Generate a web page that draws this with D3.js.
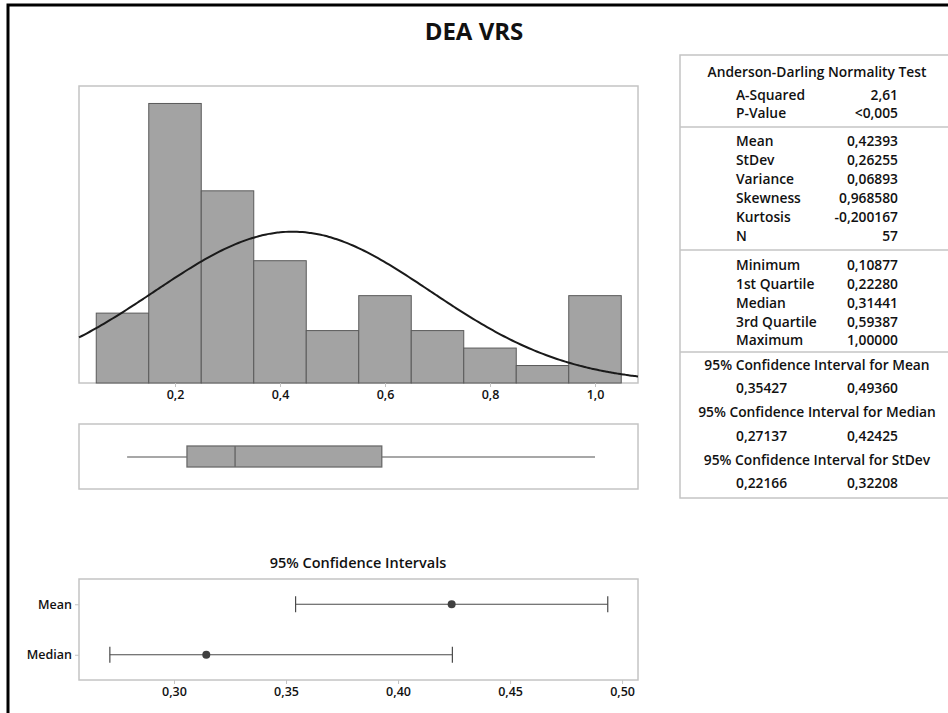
<!DOCTYPE html>
<html>
<head>
<meta charset="utf-8">
<script src="https://cdn.jsdelivr.net/npm/d3@7"></script>
<style>
  html, body { margin: 0; padding: 0; background: #fff; }
  svg text { font-family: "Open Sans", "Noto Sans", sans-serif; fill: #111; }
</style>
</head>
<body>
<svg id="chart" width="948" height="713"></svg>
<script>
// ---- data ----
const binCenters = [0.1, 0.2, 0.3, 0.4, 0.5, 0.6, 0.7, 0.8, 0.9, 1.0];
const binCounts  = [4, 16, 11, 7, 3, 5, 3, 2, 1, 5];
const binWidth = 0.1;
const histTicks = [0.2, 0.4, 0.6, 0.8, 1.0];

const sampleMean = 0.42393;
const sampleStDev = 0.26255;
const sampleN = 57;

const fiveNumber = { min: 0.10877, q1: 0.22280, median: 0.31441, q3: 0.59387, max: 1.00000 };

const ciNames  = ["Mean", "Median"];
const ciCenter = [0.42393, 0.31441];
const ciLower  = [0.35427, 0.27137];
const ciUpper  = [0.49360, 0.42425];
const ciTicks  = [0.30, 0.35, 0.40, 0.45, 0.50];

const adRows   = [["A-Squared", "2,61"], ["P-Value", "<0,005"]];
const momentRows = [["Mean", "0,42393"], ["StDev", "0,26255"], ["Variance", "0,06893"],
                    ["Skewness", "0,968580"], ["Kurtosis", "-0,200167"], ["N", "57"]];
const quantRows = [["Minimum", "0,10877"], ["1st Quartile", "0,22280"], ["Median", "0,31441"],
                   ["3rd Quartile", "0,59387"], ["Maximum", "1,00000"]];
const ciTable = [
  ["95% Confidence Interval for Mean", "0,35427", "0,49360"],
  ["95% Confidence Interval for Median", "0,27137", "0,42425"],
  ["95% Confidence Interval for StDev", "0,22166", "0,32208"]
];

// ---- helpers ----
const svg = d3.select("#chart");
const comma = (digits) => (v) => d3.format("." + digits + "f")(v).replace(".", ",");
const FRAME = "#c4c4c4";
const BAR_FILL = "#a3a3a3";
const BAR_STROKE = "#5a5a5a";
const AXIS_FONT = "12.5px";

// outer frame
svg.append("rect").attr("x", 8).attr("y", 5).attr("width", 960).attr("height", 740)
  .attr("fill", "none").attr("stroke", "#000").attr("stroke-width", 3);

// title, centred over the whole graph
svg.append("text").attr("x", 474).attr("y", 40).attr("text-anchor", "middle")
  .style("font-size", "24px").style("font-weight", 700).text("DEA VRS");

// ---- histogram ----
const hx = d3.scaleLinear().domain([0.01714, 1.0819]).range([79, 638]);
const hy = d3.scaleLinear().domain([0, 17]).range([383, 86]);

const hist = svg.append("g");
hist.append("rect").attr("x", 79).attr("y", 86).attr("width", 559).attr("height", 297)
  .attr("fill", "#fff").attr("stroke", FRAME).attr("stroke-width", 1.5);

hist.selectAll("rect.bar").data(binCenters).join("rect").attr("class", "bar")
  .attr("x", d => hx(d - binWidth / 2))
  .attr("width", d => hx(d + binWidth / 2) - hx(d - binWidth / 2))
  .attr("y", (d, i) => hy(binCounts[i]))
  .attr("height", (d, i) => hy(0) - hy(binCounts[i]))
  .attr("fill", BAR_FILL).attr("stroke", BAR_STROKE).attr("stroke-width", 1);

// fitted normal curve, scaled to counts
const curvePts = d3.range(0, 201).map(i => {
  const x = hx.domain()[0] + (hx.domain()[1] - hx.domain()[0]) * i / 200;
  const z = (x - sampleMean) / sampleStDev;
  const dens = Math.exp(-0.5 * z * z) / (sampleStDev * Math.sqrt(2 * Math.PI));
  return [x, dens * sampleN * binWidth];
});
hist.append("path").datum(curvePts)
  .attr("d", d3.line().x(d => hx(d[0])).y(d => hy(d[1])).curve(d3.curveBasis))
  .attr("fill", "none").attr("stroke", "#1a1a1a").attr("stroke-width", 2);

const hAxis = hist.append("g").attr("transform", "translate(0,383)")
  .call(d3.axisBottom(hx).tickValues(histTicks).tickFormat(comma(1)).tickSize(4).tickPadding(3));
hAxis.select(".domain").remove();
hAxis.selectAll(".tick line").attr("stroke", FRAME);
hAxis.selectAll("text").style("font-size", AXIS_FONT).style("font-weight", 600).attr("fill", "#111");

// ---- boxplot ----
const box = svg.append("g");
box.append("rect").attr("x", 79).attr("y", 424).attr("width", 559).attr("height", 65)
  .attr("fill", "#fff").attr("stroke", FRAME).attr("stroke-width", 1.5);
box.append("line").attr("x1", hx(fiveNumber.min)).attr("x2", hx(fiveNumber.q1))
  .attr("y1", 457).attr("y2", 457).attr("stroke", "#8a8a8a").attr("stroke-width", 1.5);
box.append("line").attr("x1", hx(fiveNumber.q3)).attr("x2", hx(fiveNumber.max))
  .attr("y1", 457).attr("y2", 457).attr("stroke", "#8a8a8a").attr("stroke-width", 1.5);
box.append("rect").attr("x", hx(fiveNumber.q1)).attr("width", hx(fiveNumber.q3) - hx(fiveNumber.q1))
  .attr("y", 446).attr("height", 21)
  .attr("fill", BAR_FILL).attr("stroke", "#6a6a6a").attr("stroke-width", 1.3);
box.append("line").attr("x1", hx(fiveNumber.median)).attr("x2", hx(fiveNumber.median))
  .attr("y1", 446).attr("y2", 467).attr("stroke", "#6a6a6a").attr("stroke-width", 1.5);

// ---- confidence intervals ----
const cx = d3.scaleLinear().domain([0.2576, 0.5071]).range([79, 638]);
const cy = d3.scalePoint().domain(ciNames).range([579, 680]).padding(0.5);

const ci = svg.append("g");
ci.append("text").attr("x", 358).attr("y", 568).attr("text-anchor", "middle")
  .style("font-size", "14.5px").style("font-weight", 600).text("95% Confidence Intervals");
ci.append("rect").attr("x", 79).attr("y", 579).attr("width", 559).attr("height", 101)
  .attr("fill", "#fff").attr("stroke", FRAME).attr("stroke-width", 1.5);

const cxAxis = ci.append("g").attr("transform", "translate(0,680)")
  .call(d3.axisBottom(cx).tickValues(ciTicks).tickFormat(comma(2)).tickSize(4).tickPadding(3));
cxAxis.select(".domain").remove();
cxAxis.selectAll(".tick line").attr("stroke", FRAME);
cxAxis.selectAll("text").style("font-size", AXIS_FONT).style("font-weight", 600).attr("fill", "#111");

const cyAxis = ci.append("g").attr("transform", "translate(79,0)")
  .call(d3.axisLeft(cy).tickSize(4).tickPadding(3));
cyAxis.select(".domain").remove();
cyAxis.selectAll(".tick line").attr("stroke", FRAME);
cyAxis.selectAll("text").style("font-size", AXIS_FONT).style("font-weight", 600).attr("fill", "#111");

const rows = ci.selectAll("g.row").data(ciNames).join("g").attr("class", "row");
rows.append("line").attr("x1", (d, i) => cx(ciLower[i])).attr("x2", (d, i) => cx(ciUpper[i]))
  .attr("y1", d => cy(d)).attr("y2", d => cy(d)).attr("stroke", "#4a4a4a").attr("stroke-width", 1.2);
rows.append("line").attr("x1", (d, i) => cx(ciLower[i])).attr("x2", (d, i) => cx(ciLower[i]))
  .attr("y1", d => cy(d) - 8).attr("y2", d => cy(d) + 8).attr("stroke", "#4a4a4a").attr("stroke-width", 1.2);
rows.append("line").attr("x1", (d, i) => cx(ciUpper[i])).attr("x2", (d, i) => cx(ciUpper[i]))
  .attr("y1", d => cy(d) - 8).attr("y2", d => cy(d) + 8).attr("stroke", "#4a4a4a").attr("stroke-width", 1.2);
rows.append("circle").attr("cx", (d, i) => cx(ciCenter[i])).attr("cy", d => cy(d)).attr("r", 4)
  .attr("fill", "#404040");

// ---- summary table ----
const tbl = svg.append("g").style("font-size", "13.8px").style("font-weight", 600);
const tL = 680, tR = 958, labX = 736, valX = 898, midX = 817;
tbl.append("rect").attr("x", tL).attr("y", 55).attr("width", tR - tL).attr("height", 443)
  .attr("fill", "#fff").attr("stroke", FRAME).attr("stroke-width", 1.5);
[127, 250, 352].forEach(y => tbl.append("line").attr("x1", tL).attr("x2", tR)
  .attr("y1", y).attr("y2", y).attr("stroke", FRAME).attr("stroke-width", 1.5));

function centered(y, s) {
  tbl.append("text").attr("x", midX).attr("y", y).attr("dy", "0.35em")
    .attr("text-anchor", "middle").text(s);
}
function pairRow(y, a, b) {
  tbl.append("text").attr("x", labX).attr("y", y).attr("dy", "0.35em").text(a);
  tbl.append("text").attr("x", valX).attr("y", y).attr("dy", "0.35em")
    .attr("text-anchor", "end").text(b);
}
centered(72, "Anderson-Darling Normality Test");
adRows.forEach((r, i) => pairRow(95 + i * 18.5, r[0], r[1]));
momentRows.forEach((r, i) => pairRow(141 + i * 19.1, r[0], r[1]));
quantRows.forEach((r, i) => pairRow(265 + i * 18.9, r[0], r[1]));
ciTable.forEach((r, i) => {
  centered(365 + i * 47.5, r[0]);
  pairRow(388.5 + i * 47.5, r[1], r[2]);
});
</script>
</body>
</html>
